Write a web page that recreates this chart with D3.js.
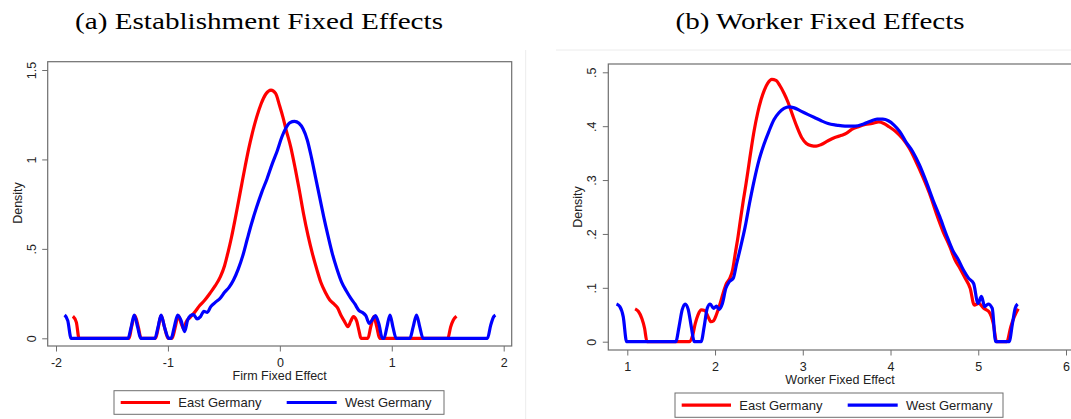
<!DOCTYPE html>
<html>
<head>
<meta charset="utf-8">
<script src="https://cdn.jsdelivr.net/npm/d3@7"></script>
<style>
  html, body { margin: 0; padding: 0; background: #fff; }
  svg { display: block; }
</style>
</head>
<body>
<svg id="chart" width="1071" height="419"></svg>
<script>
// ---------------- DATA ----------------
const titles = ["(a) Establishment Fixed Effects", "(b) Worker Fixed Effects"];
const xLabels = ["Firm Fixed Effect", "Worker Fixed Effect"];
const yLabel = "Density";
const seriesNames = ["East Germany", "West Germany"];

const ticksAX = [-2, -1, 0, 1, 2];
const ticksAY = [0, 0.5, 1, 1.5];
const tickLabelsAY = ["0", ".5", "1", "1.5"];
const ticksBX = [1, 2, 3, 4, 5, 6];
const ticksBY = [0, 0.1, 0.2, 0.3, 0.4, 0.5];
const tickLabelsBY = ["0", ".1", ".2", ".3", ".4", ".5"];

// Panel (a): establishment fixed effects, kernel density [x, density]
const eastA = [
  [-1.849,0.123],[-1.818,0.089],[-1.794,0],[-1.347,0],[-1.326,0.061],[-1.295,0.127],[-1.264,0.061],[-1.24,0],
  [-1.11,0],[-1.086,0.061],[-1.061,0.127],[-1.03,0.061],[-1.0,0],[-0.962,0],[-0.935,0.061],[-0.907,0.127],
  [-0.88,0.08],[-0.855,0.05],[-0.839,0.089],[-0.802,0.117],[-0.762,0.145],[-0.716,0.183],[-0.67,0.214],
  [-0.624,0.252],[-0.577,0.294],[-0.531,0.345],[-0.494,0.406],[-0.463,0.481],[-0.432,0.565],[-0.402,0.658],
  [-0.371,0.76],[-0.34,0.863],[-0.309,0.965],[-0.279,1.058],[-0.248,1.142],[-0.208,1.235],[-0.168,1.31],
  [-0.125,1.366],[-0.079,1.388],[-0.038,1.369],[-0.002,1.30],[0.028,1.235],[0.054,1.17],[0.098,1.068],
  [0.138,0.947],[0.175,0.825],[0.212,0.695],[0.252,0.574],[0.292,0.471],[0.329,0.388],[0.366,0.313],
  [0.406,0.257],[0.446,0.214],[0.483,0.192],[0.516,0.17],[0.547,0.127],[0.577,0.095],[0.608,0.065],
  [0.633,0.095],[0.657,0.121],[0.685,0.099],[0.707,0.043],[0.725,0],[0.787,0],[0.811,0.061],[0.839,0.121],
  [0.867,0.061],[0.891,0],[1.501,0],[1.525,0.061],[1.55,0.102],[1.578,0.123]
];
const westA = [
  [-1.923,0.13],[-1.895,0.099],[-1.865,0],[-1.356,0],[-1.329,0.061],[-1.301,0.13],[-1.27,0.061],[-1.243,0],
  [-1.116,0],[-1.089,0.061],[-1.061,0.13],[-1.03,0.061],[-0.993,0],[-0.971,0],[-0.944,0.061],[-0.913,0.13],
  [-0.882,0.099],[-0.851,0.037],[-0.824,0.102],[-0.799,0.127],[-0.771,0.132],[-0.74,0.108],[-0.709,0.121],
  [-0.679,0.151],[-0.648,0.145],[-0.617,0.177],[-0.577,0.201],[-0.531,0.225],[-0.494,0.257],[-0.454,0.285],
  [-0.414,0.326],[-0.371,0.388],[-0.331,0.462],[-0.291,0.555],[-0.254,0.639],[-0.208,0.732],[-0.162,0.816],
  [-0.115,0.891],[-0.069,0.974],[-0.023,1.049],[0.017,1.124],[0.054,1.176],[0.091,1.206],[0.131,1.213],
  [0.171,1.202],[0.208,1.17],[0.245,1.109],[0.282,1.012],[0.319,0.9],[0.356,0.788],[0.393,0.676],[0.43,0.574],
  [0.47,0.471],[0.51,0.388],[0.553,0.313],[0.593,0.266],[0.633,0.225],[0.67,0.192],[0.707,0.155],[0.737,0.145],
  [0.768,0.127],[0.799,0.084],[0.83,0.108],[0.854,0.127],[0.885,0.08],[0.916,0],[0.931,0],[0.956,0.061],
  [0.984,0.13],[1.011,0.061],[1.039,0],[1.162,0],[1.19,0.061],[1.221,0.13],[1.251,0.061],[1.279,0],
  [1.855,0],[1.883,0.071],[1.911,0.121],[1.926,0.13]
];

// Panel (b): worker fixed effects, kernel density [x, density]
const eastB = [
  [1.089,0.061],[1.127,0.056],[1.166,0.043],[1.197,0.025],[1.224,0],[1.706,0],[1.745,0.012],[1.775,0.034],
  [1.806,0.05],[1.845,0.059],[1.883,0.058],[1.922,0.046],[1.953,0.037],[1.984,0.039],[2.015,0.05],[2.053,0.068],
  [2.092,0.09],[2.13,0.108],[2.169,0.118],[2.2,0.133],[2.231,0.164],[2.262,0.195],[2.292,0.229],[2.323,0.263],
  [2.354,0.294],[2.385,0.328],[2.416,0.362],[2.447,0.393],[2.485,0.424],[2.524,0.449],[2.562,0.467],[2.601,0.48],
  [2.647,0.487],[2.694,0.485],[2.74,0.475],[2.786,0.461],[2.833,0.444],[2.883,0.421],[2.933,0.399],[2.987,0.379],
  [3.041,0.368],[3.095,0.364],[3.153,0.363],[3.211,0.366],[3.288,0.373],[3.365,0.379],[3.442,0.383],[3.5,0.387],
  [3.558,0.394],[3.635,0.399],[3.712,0.403],[3.789,0.405],[3.866,0.408],[3.924,0.405],[3.982,0.399],[4.059,0.39],
  [4.137,0.377],[4.214,0.359],[4.291,0.334],[4.368,0.306],[4.445,0.275],[4.522,0.238],[4.6,0.204],[4.677,0.176],
  [4.735,0.152],[4.792,0.136],[4.85,0.118],[4.908,0.099],[4.954,0.068],[5.005,0.071],[5.062,0.062],[5.12,0.056],
  [5.171,0.034],[5.209,0],[5.325,0],[5.371,0.028],[5.41,0.046],[5.456,0.061]
];
const westB = [
  [0.877,0.07],[0.915,0.065],[0.954,0.046],[0.992,0],[1.552,0],[1.59,0.028],[1.625,0.059],[1.66,0.07],
  [1.694,0.06],[1.729,0.028],[1.764,0],[1.841,0],[1.876,0.028],[1.911,0.062],[1.945,0.07],[1.984,0.062],
  [2.015,0.066],[2.046,0.06],[2.084,0.071],[2.123,0.099],[2.161,0.111],[2.208,0.118],[2.246,0.145],[2.292,0.176],
  [2.343,0.213],[2.393,0.257],[2.447,0.3],[2.501,0.337],[2.555,0.365],[2.613,0.39],[2.671,0.412],[2.728,0.425],
  [2.786,0.433],[2.844,0.436],[2.902,0.434],[2.979,0.428],[3.056,0.422],[3.133,0.416],[3.211,0.41],[3.288,0.405],
  [3.384,0.402],[3.481,0.4],[3.597,0.4],[3.693,0.404],[3.77,0.409],[3.847,0.413],[3.913,0.413],[3.975,0.41],
  [4.04,0.402],[4.106,0.39],[4.175,0.371],[4.252,0.353],[4.33,0.328],[4.407,0.297],[4.484,0.263],[4.561,0.232],
  [4.638,0.198],[4.708,0.17],[4.773,0.152],[4.831,0.133],[4.889,0.118],[4.947,0.108],[4.997,0.071],[5.036,0.084],
  [5.074,0.065],[5.113,0.07],[5.159,0.062],[5.198,0],[5.352,0],[5.39,0.034],[5.421,0.062],[5.448,0.07]
];

const colors = ["#ff0000", "#0000ff"];

// ---------------- DRAW ----------------
const svg = d3.select("#chart");
const sans = "'Liberation Sans', Arial, sans-serif";
const serif = "'Liberation Serif', 'Times New Roman', serif";

// faint page separators
svg.append("line").attr("x1", 525.7).attr("x2", 525.7).attr("y1", 50).attr("y2", 419)
  .attr("stroke", "#ececec").attr("stroke-width", 1);
svg.append("line").attr("x1", 556).attr("x2", 1071).attr("y1", 50).attr("y2", 50)
  .attr("stroke", "#ececec").attr("stroke-width", 1);

const panels = [
  { title: titles[0], titleX: 259, titleW: 368, xLabel: xLabels[0],
    box: [47.7, 61.7, 511.7, 346], xDom: [-2, 2], xRange: [56, 503.7], yDom: [0, 1.5], yRange: [338.3, 70],
    xt: ticksAX, xtl: ticksAX.map(String), yt: ticksAY, ytl: tickLabelsAY,
    xtlY: 362, xLabY: 380, dens: [17.5, 203], ytlX: 31, labCX: 279.7,
    legend: [114, 390.7, 444, 414.3], series: [eastA, westA] },
  { title: titles[1], titleX: 820, titleW: 289, xLabel: xLabels[1],
    box: [608.3, 64, 1076, 350], xDom: [1, 6], xRange: [627.3, 1066], yDom: [0, 0.5], yRange: [341.7, 72.3],
    xt: ticksBX, xtl: ticksBX.map(String), yt: ticksBY, ytl: tickLabelsBY,
    xtlY: 366, xLabY: 383.5, dens: [577.5, 207], ytlX: 591.7, labCX: 840,
    legend: [675, 393, 1003, 417.3], series: [eastB, westB] }
];

panels.forEach(p => {
  const g = svg.append("g");
  const x = d3.scaleLinear().domain(p.xDom).range(p.xRange);
  const y = d3.scaleLinear().domain(p.yDom).range(p.yRange);
  const [bx0, by0, bx1, by1] = p.box;

  // title
  g.append("text").attr("x", p.titleX).attr("y", 29).attr("text-anchor", "middle")
    .attr("font-family", serif).attr("font-size", 24).attr("fill", "#000")
    .attr("textLength", p.titleW).attr("lengthAdjust", "spacingAndGlyphs").text(p.title);

  // plot box
  g.append("rect").attr("x", bx0).attr("y", by0).attr("width", bx1 - bx0).attr("height", by1 - by0)
    .attr("fill", "none").attr("stroke", "#6e6e6e").attr("stroke-width", 1.2);

  // x axis
  const xAxis = d3.axisBottom(x).tickValues(p.xt).tickFormat((d, i) => p.xtl[i]).tickSize(5.5);
  const gx = g.append("g").attr("transform", `translate(0,${by1})`).call(xAxis);
  gx.select(".domain").remove();
  gx.selectAll(".tick line").attr("stroke", "#6e6e6e").attr("stroke-width", 1);
  gx.selectAll(".tick text").attr("font-family", sans).attr("font-size", 12.5).attr("fill", "#222")
    .attr("y", p.xtlY - by1 + 4.5).attr("dy", null);

  // y axis
  const yAxis = d3.axisLeft(y).tickValues(p.yt).tickFormat((d, i) => p.ytl[i]).tickSize(5.5);
  const gy = g.append("g").attr("transform", `translate(${bx0},0)`).call(yAxis);
  gy.select(".domain").remove();
  gy.selectAll(".tick line").attr("stroke", "#6e6e6e").attr("stroke-width", 1);
  gy.selectAll(".tick text").attr("font-family", sans).attr("font-size", 12.5).attr("fill", "#222")
    .attr("x", null).attr("dy", null).attr("text-anchor", "middle")
    .attr("transform", `translate(${p.ytlX - bx0 + 4.5},0) rotate(-90)`);

  // axis titles
  g.append("text").attr("x", p.labCX).attr("y", p.xLabY).attr("text-anchor", "middle")
    .attr("font-family", sans).attr("font-size", 12.5).attr("fill", "#222").text(p.xLabel);
  g.append("text").attr("transform", `translate(${p.dens[0] + 4.5},${p.dens[1]}) rotate(-90)`)
    .attr("text-anchor", "middle").attr("font-family", sans).attr("font-size", 12.5).attr("fill", "#222")
    .text(yLabel);

  // curves
  const line = d3.line().x(d => x(d[0])).y(d => y(d[1])).curve(d3.curveMonotoneX);
  p.series.forEach((s, i) => {
    g.append("path").datum(s).attr("d", line).attr("fill", "none")
      .attr("stroke", colors[i]).attr("stroke-width", 3.2)
      .attr("stroke-linejoin", "round").attr("stroke-linecap", "butt");
  });

  // legend
  const [lx0, ly0, lx1, ly1] = p.legend;
  g.append("rect").attr("x", lx0).attr("y", ly0).attr("width", lx1 - lx0).attr("height", ly1 - ly0)
    .attr("fill", "#fff").attr("stroke", "#6e6e6e").attr("stroke-width", 1);
  const ly = (ly0 + ly1) / 2;
  const items = [
    { x1: lx0 + 6.7, x2: lx0 + 56, tx: lx0 + 64.3 },
    { x1: lx0 + 172.7, x2: lx0 + 222.7, tx: lx0 + 231 }
  ];
  items.forEach((it, i) => {
    g.append("line").attr("x1", it.x1).attr("x2", it.x2).attr("y1", ly).attr("y2", ly)
      .attr("stroke", colors[i]).attr("stroke-width", 3.2);
    g.append("text").attr("x", it.tx).attr("y", ly + 4.6)
      .attr("font-family", sans).attr("font-size", 13).attr("fill", "#222").text(seriesNames[i]);
  });
});
</script>
</body>
</html>
